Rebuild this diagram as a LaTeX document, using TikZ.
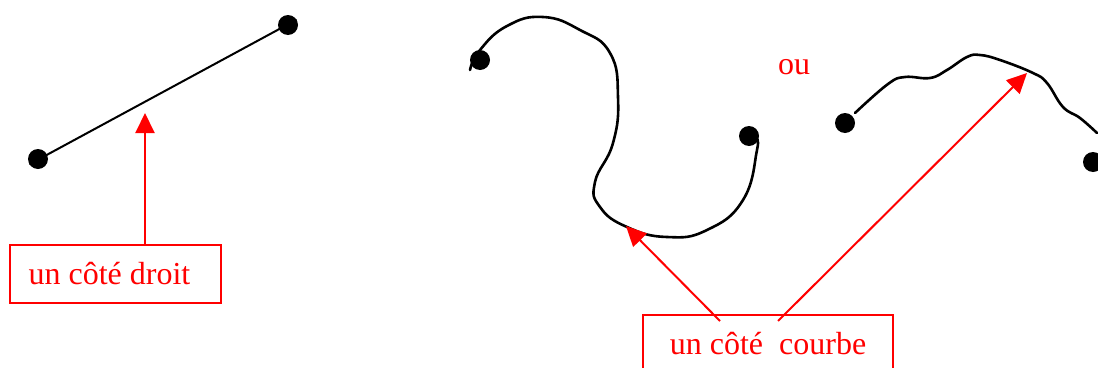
\documentclass[tikz,border=0pt]{standalone}
\usepackage{fontspec}
\setmainfont{Liberation Serif}
\usetikzlibrary{arrows.meta}
\tikzset{
  dot/.style={circle,fill=black,minimum size=20pt,inner sep=0pt},
  cote/.style={line width=2.6pt,line cap=round},
  redbox/.style={draw=red,line width=2pt,text=red,minimum height=58pt,inner sep=0pt,
    font=\fontsize{32}{38}\selectfont},
  redarrow/.style={draw=red,line width=2pt,-{Triangle[length=20pt,width=19pt]}},
}
\begin{document}
\begin{tikzpicture}[x=1pt,y=-1pt]
  \useasboundingbox (0,0) rectangle (1098,367);
  \draw[cote,line width=2pt] (30,164) -- (296,20);
  \node[dot] (a) at (38,159) {};
  \node[dot] (b) at (288,25) {};
  \draw[cote] plot[smooth,tension=0.8] coordinates {(470,70) (480,50) (507,26) (543,17) (580,30) (610,53)
    (618,97) (613,143) (595,182) (600,207) (627,227) (667,237) (707,230) (743,200) (757,150) (756,140)};
  \node[dot] (c) at (480,60) {};
  \node[dot] (d) at (749,136) {};
  \draw[cote] plot[smooth,tension=0.7] coordinates {(855,113) (888,84) (905,77) (930,78) (947,70)
    (967,57) (980,55) (1000,60) (1033,73) (1047,83) (1063,107) (1080,118) (1097,133)};
  \node[dot] (e) at (845,123) {};
  \node[dot] (f) at (1093,162) {};
  \node[font=\fontsize{32}{38}\selectfont,text=red] (ou) at (794,67) {ou};
  \node[redbox,minimum width=211pt] (droit) at (115.5,274) {un côté droit\kern12pt};
  \node[redbox,minimum width=250pt] (courbe) at (768,344) {un côté~~courbe};
  \coordinate (t1) at (145,113);
  \coordinate (t2) at (626,226);
  \coordinate (t3) at (1027,73);
  \coordinate (s2) at (720,321);
  \coordinate (s3) at (778,321);
  \draw[redarrow] (t1 |- droit.north) -- (t1);
  \draw[redarrow] (s2) -- (t2);
  \draw[redarrow] (s3) -- (t3);
\end{tikzpicture}
\end{document}
